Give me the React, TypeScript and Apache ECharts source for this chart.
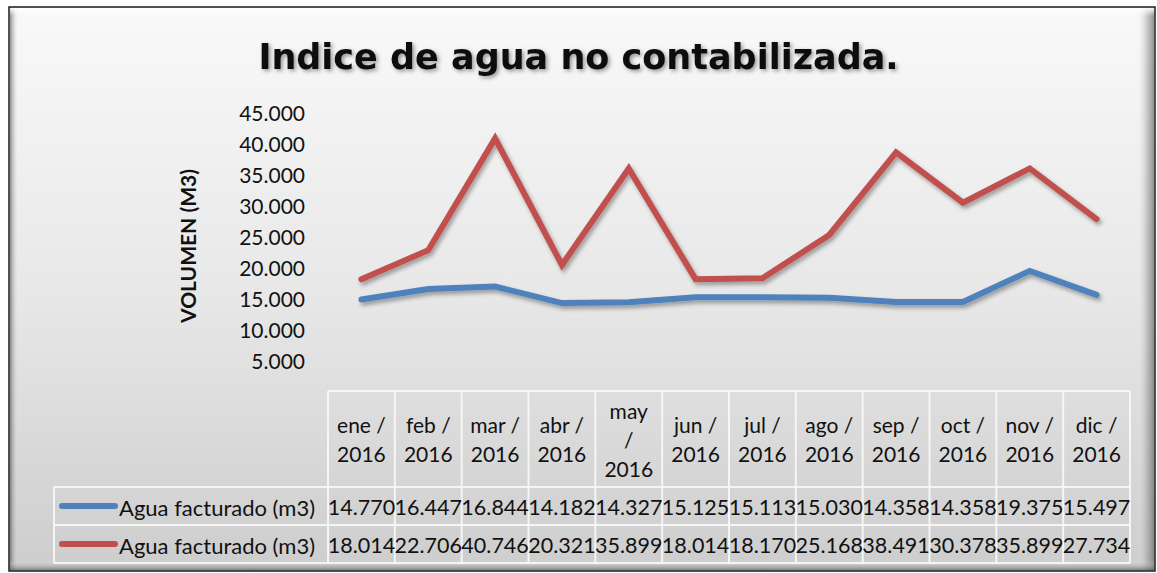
import { useEffect, useRef } from 'react';
import * as echarts from 'echarts';

const categories = ['ene /\n2016', 'feb /\n2016', 'mar /\n2016', 'abr /\n2016', 'may\n/\n2016', 'jun /\n2016', 'jul /\n2016', 'ago /\n2016', 'sep /\n2016', 'oct /\n2016', 'nov /\n2016', 'dic /\n2016'];
const seriesNames = ['Agua facturado (m3)', 'Agua facturado (m3)'];
const facturado = [14770, 16447, 16844, 14182, 14327, 15125, 15113, 15030, 14358, 14358, 19375, 15497];
const producido = [18014, 22706, 40746, 20321, 35899, 18014, 18170, 25168, 38491, 30378, 35899, 27734];
const seriesColors = ['#4f81bd', '#c0504d'];
const titleText = 'Indice de agua no contabilizada.';
const yAxisTitle = 'VOLUMEN (M3)';
const yMin = 0;
const yMax = 45000;
const yInterval = 5000;

const FONT = 'Lato';

function fmt(v: number): string {
  const th = Math.floor(v / 1000);
  const rest = String(v % 1000).padStart(3, '0');
  return th > 0 ? `${th}.${rest}` : String(v % 1000);
}

export default function App() {
  const ref = useRef<HTMLDivElement>(null);
  useEffect(() => {
    if (!ref.current) return;
    const chart = echarts.init(ref.current, null, { renderer: 'svg' });
    const allSeries = [facturado, producido];
    chart.setOption({
      animation: false,
      backgroundColor: '#ffffff',
      title: {
        text: titleText,
        left: 'center',
        top: 34,
        textStyle: {
          fontFamily: 'DejaVu Sans',
          fontWeight: 'bold',
          fontSize: 35,
          color: '#111',
          textShadowColor: 'rgba(0,0,0,0.4)',
          textShadowBlur: 4,
          textShadowOffsetX: 2,
          textShadowOffsetY: 2,
        },
      },
      grid: { left: 328, right: 27, top: 112, bottom: 182, containLabel: false },
      xAxis: {
        type: 'category',
        data: categories,
        boundaryGap: true,
        axisLine: { show: false },
        axisTick: { show: false },
        splitLine: { show: false },
        axisLabel: {
          interval: 0,
          margin: 48,
          verticalAlign: 'middle',
          lineHeight: 29,
          fontFamily: FONT,
          fontSize: 21,
          color: '#111',
        },
      },
      yAxis: {
        type: 'value',
        min: yMin,
        max: yMax,
        interval: yInterval,
        axisLine: { show: false },
        axisTick: { show: false },
        splitLine: { show: false },
        axisLabel: {
          margin: 23,
          fontFamily: FONT,
          fontSize: 21,
          color: '#111',
          formatter: (v: number) => (v === 0 ? '' : fmt(v)),
        },
      },
      series: allSeries.map((d, i) => ({
        type: 'line',
        name: seriesNames[i],
        data: d,
        showSymbol: false,
        symbol: 'none',
        z: 3 + i,
        lineStyle: {
          width: 6,
          color: seriesColors[i],
          cap: 'round',
          join: 'miter',
          shadowColor: 'rgba(0,0,0,0.35)',
          shadowBlur: 4,
          shadowOffsetX: 2,
          shadowOffsetY: 3,
        },
        itemStyle: { color: seriesColors[i] },
      })),
    });

    const centers = categories.map((_, i) => chart.convertToPixel({ xAxisIndex: 0 }, i) as number);
    const cw = centers[1] - centers[0];
    const tableLeft = centers[0] - cw / 2;
    const tableRight = centers[centers.length - 1] + cw / 2;
    const headerTop = chart.convertToPixel({ yAxisIndex: 0 }, 0) as number;
    const rowTop = headerTop + 96;
    const rowH = 38;
    const legendLeft = 54;
    const lineColor = 'rgba(248,248,248,0.9)';

    const els: any[] = [];
    els.push({
      type: 'rect',
      z: -20,
      silent: true,
      shape: { x: 9, y: 7, width: 1146, height: 564 },
      style: {
        fill: new echarts.graphic.LinearGradient(0, 0, 0, 1, [
          { offset: 0, color: '#f9f9f9' },
          { offset: 0.5, color: '#e8e8e8' },
          { offset: 1, color: '#cdcdcd' },
        ]),
        stroke: '#1a1a1a',
        lineWidth: 1.5,
      },
    });
    els.push({
      type: 'rect', z: -19, silent: true,
      shape: { x: 10, y: 8, width: 9, height: 562 },
      style: {
        fill: new echarts.graphic.LinearGradient(0, 0, 1, 0, [
          { offset: 0, color: 'rgba(60,60,60,0.55)' },
          { offset: 1, color: 'rgba(255,255,255,0)' },
        ]),
      },
    });
    els.push({
      type: 'rect', z: -19, silent: true,
      shape: { x: 1136, y: 8, width: 18, height: 562 },
      style: {
        fill: new echarts.graphic.LinearGradient(0, 0, 1, 0, [
          { offset: 0, color: 'rgba(255,255,255,0)' },
          { offset: 0.6, color: 'rgba(150,150,150,0.45)' },
          { offset: 1, color: 'rgba(100,100,100,0.7)' },
        ]),
      },
    });
    els.push({
      type: 'rect', z: -19, silent: true,
      shape: { x: 10, y: 560, width: 1144, height: 10 },
      style: {
        fill: new echarts.graphic.LinearGradient(0, 0, 0, 1, [
          { offset: 0, color: 'rgba(255,255,255,0)' },
          { offset: 1, color: 'rgba(80,80,80,0.6)' },
        ]),
      },
    });
    els.push({
      type: 'rect', z: -19, silent: true,
      shape: { x: 10, y: 8, width: 1144, height: 8 },
      style: {
        fill: new echarts.graphic.LinearGradient(0, 0, 0, 1, [
          { offset: 0, color: 'rgba(255,255,255,0.9)' },
          { offset: 1, color: 'rgba(255,255,255,0)' },
        ]),
      },
    });
    els.push({
      type: 'text',
      z: 5,
      x: 187,
      y: 246,
      rotation: Math.PI / 2,
      style: {
        text: yAxisTitle,
        fontFamily: FONT,
        fontWeight: 'bold',
        fontSize: 21,
        fill: '#111',
        align: 'center',
        verticalAlign: 'middle',
      },
    });
    const hl = (x1: number, x2: number, y: number) =>
      els.push({ type: 'line', z: 1, silent: true, shape: { x1, y1: y, x2, y2: y }, style: { stroke: lineColor, lineWidth: 2 } });
    const vl = (x: number, y1: number, y2: number) =>
      els.push({ type: 'line', z: 1, silent: true, shape: { x1: x, y1, x2: x, y2 }, style: { stroke: lineColor, lineWidth: 2 } });
    hl(tableLeft, tableRight, headerTop);
    hl(legendLeft, tableRight, rowTop);
    hl(legendLeft, tableRight, rowTop + rowH);
    hl(legendLeft, tableRight, rowTop + 2 * rowH);
    for (let i = 0; i <= categories.length; i++) {
      vl(tableLeft + i * cw, headerTop, rowTop + 2 * rowH);
    }
    vl(legendLeft, rowTop, rowTop + 2 * rowH);
    allSeries.forEach((d, s) => {
      const cy = rowTop + rowH * s + rowH / 2;
      els.push({
        type: 'line', z: 2, silent: true,
        shape: { x1: 62, y1: cy, x2: 115, y2: cy },
        style: { stroke: seriesColors[s], lineWidth: 6, lineCap: 'round' },
      });
      els.push({
        type: 'text', z: 2, x: 119, y: cy + 1,
        style: { text: seriesNames[s], fontFamily: FONT, fontSize: 22, fill: '#111', align: 'left', verticalAlign: 'middle' },
      });
      d.forEach((v, i) => {
        els.push({
          type: 'text', z: 2, x: centers[i], y: cy + 1,
          style: { text: fmt(v), fontFamily: FONT, fontSize: 21.5, fill: '#111', align: 'center', verticalAlign: 'middle' },
        });
      });
    });
    chart.setOption({ graphic: { elements: els } });
    return () => chart.dispose();
  }, []);
  return <div ref={ref} style={{ position: 'fixed', left: 0, top: 0, width: 1157, height: 573 }} />;
}
